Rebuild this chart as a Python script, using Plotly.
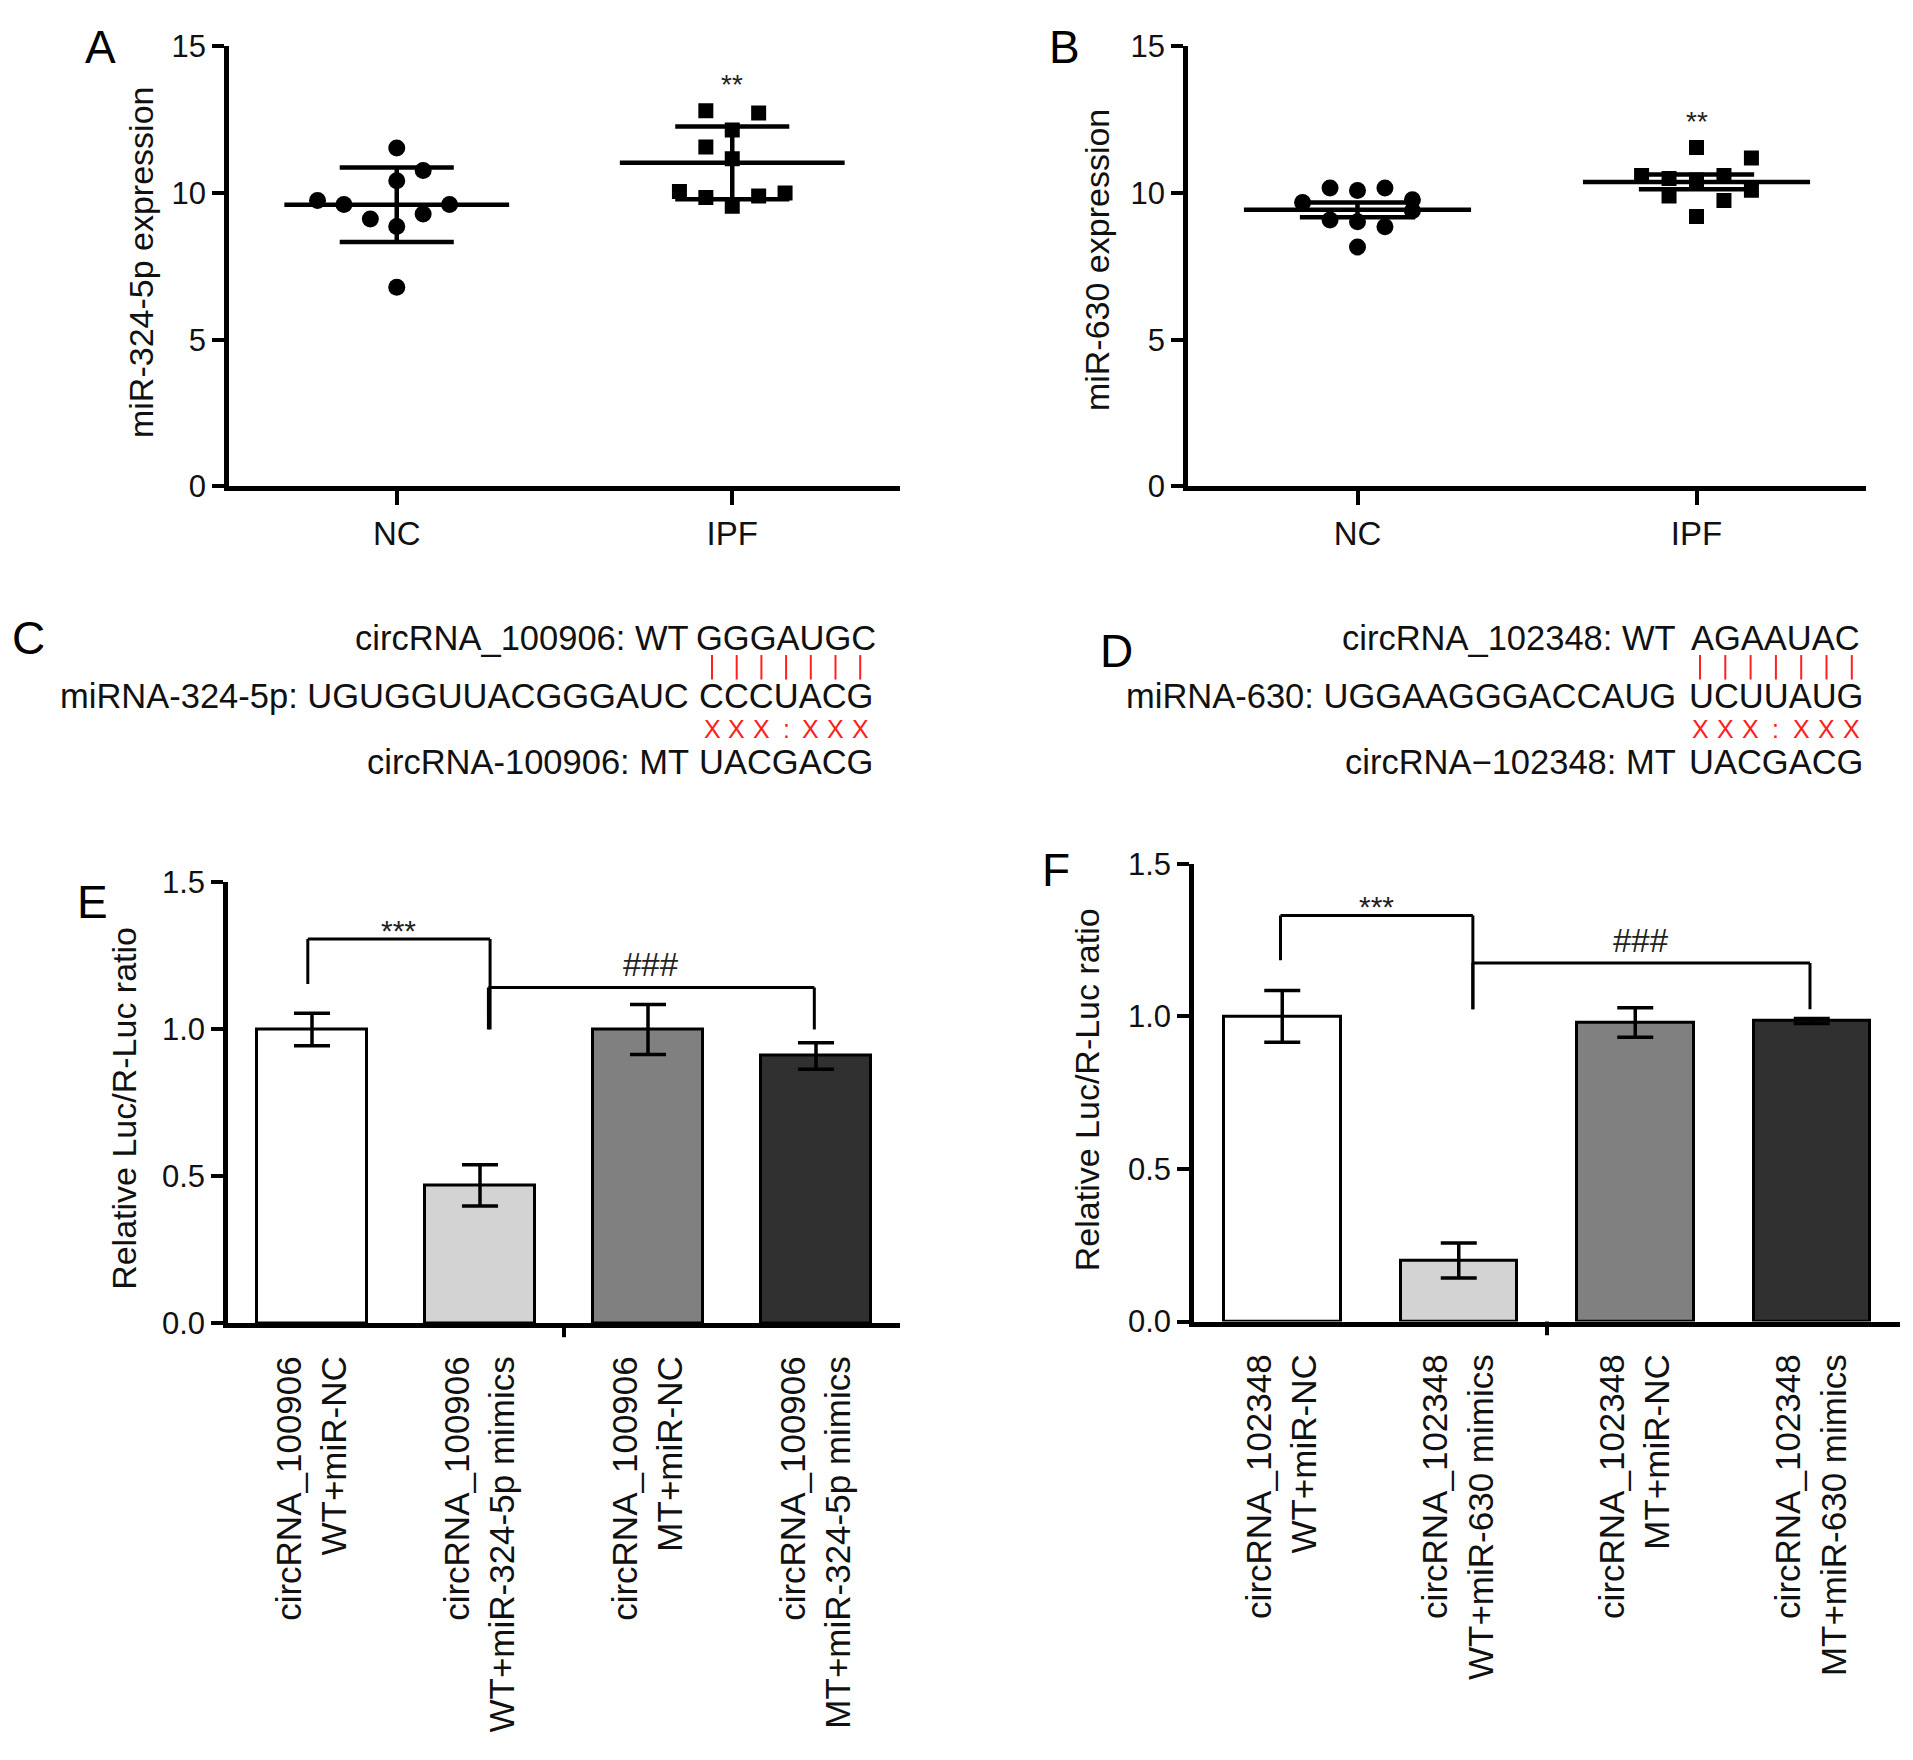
import plotly.graph_objects as go

# canvas
W, H = 1913, 1760
FONT = "Liberation Sans, Arial, Helvetica, sans-serif"

# panel A: miR-324-5p expression (dot plot, mean +/- SD)
groups = ["NC", "IPF"]
a_nc_vals = [11.54, 10.77, 10.42, 9.75, 9.61, 9.61, 9.12, 9.29, 8.86, 6.79]
a_nc_slot = [0, 1, 0, -3, -2, 2, -1, 1, 0, 0]
a_ipf_vals = [12.81, 12.73, 12.15, 11.57, 11.17, 10.05, 9.85, 9.9, 10.0, 9.55]
a_ipf_slot = [-1, 1, 0, -1, 0, -2, -1, 1, 2, 0]
a_mean = [9.6, 11.03]
a_sd = [1.27, 1.24]
a_sig = ["", "**"]

# panel B: miR-630 expression
b_nc_vals = [10.17, 10.09, 10.17, 9.68, 9.77, 9.08, 9.02, 8.85, 8.16, 9.4]
b_nc_slot = [-1, 0, 1, -2, 2, -1, 0, 1, 0, 2]
b_ipf_vals = [11.55, 11.2, 10.6, 10.5, 10.45, 10.6, 9.9, 9.75, 10.1, 9.2]
b_ipf_slot = [0, 2, -2, -1, 0, 1, -1, 1, 2, 0]
b_mean = [9.43, 10.38]
b_sd = [0.25, 0.25]
b_sig = ["", "**"]

# panels C / D: binding sequences
c_lines = ["circRNA_100906: WT", "miRNA-324-5p: UGUGGUUACGGGAUC", "circRNA-100906: MT"]
c_seqs = ["GGGAUGC", "CCCUACG", "UACGACG"]
d_lines = ["circRNA_102348: WT", "miRNA-630: UGGAAGGGACCAUG", "circRNA\u2212102348: MT"]
d_seqs = ["AGAAUAC", "UCUUAUG", "UACGACG"]
mismatch = "XXX:XXX"

# panels E / F: luciferase reporter
e_labels = ["circRNA_100906<br>WT+miR-NC", "circRNA_100906<br>WT+miR-324-5p mimics",
            "circRNA_100906<br>MT+miR-NC", "circRNA_100906<br>MT+miR-324-5p mimics"]
e_vals = [1.0, 0.47, 1.0, 0.91]
e_err = [0.055, 0.07, 0.085, 0.045]
f_labels = ["circRNA_102348<br>WT+miR-NC", "circRNA_102348<br>WT+miR-630 mimics",
            "circRNA_102348<br>MT+miR-NC", "circRNA_102348<br>MT+miR-630 mimics"]
f_vals = [1.0, 0.2, 0.98, 0.985]
f_err = [0.085, 0.057, 0.048, 0.008]
bar_colors = ["#ffffff", "#d3d3d3", "#808080", "#303030"]

# significance brackets: (x left, x right, top, left leg end, right leg end, label)
e_brackets = [(0.975, 2.06, 1.308, 1.155, 1.0, "***"), (2.05, 3.99, 1.143, 1.0, 1.0, "###")]
f_brackets = [(0.99, 2.08, 1.331, 1.184, 1.023, "***"), (2.08, 3.99, 1.175, 1.023, 1.023, "###")]


def px(x):
    return x / W


def py(y):
    return 1 - y / H


fig = go.Figure()
shapes = []
annos = []


def dot_panel(xa, ya, nc_vals, nc_slot, ipf_vals, ipf_slot, means, sds, sig, step):
    # points
    for c, vals, slots, sym, size in [(1, nc_vals, nc_slot, "circle", 17),
                                      (2, ipf_vals, ipf_slot, "square", 15)]:
        fig.add_trace(go.Scatter(x=[c + s * step for s in slots], y=vals, mode="markers",
                                 marker=dict(symbol=sym, size=size, color="black"),
                                 xaxis=xa, yaxis=ya, showlegend=False))
    # mean and SD lines
    for c, m, sd in zip([1, 2], means, sds):
        xs = [c - 0.335, c + 0.335, None, c, c, None, c - 0.17, c + 0.17, None, c - 0.17, c + 0.17]
        ys = [m, m, None, m - sd, m + sd, None, m + sd, m + sd, None, m - sd, m - sd]
        fig.add_trace(go.Scatter(x=xs, y=ys, mode="lines", line=dict(color="black", width=4.5),
                                 xaxis=xa, yaxis=ya, showlegend=False))
    # stars
    for c, s, vals in zip([1, 2], sig, [nc_vals, ipf_vals]):
        if s:
            annos.append(dict(x=c, y=max(vals), xref=xa, yref=ya, text=s, showarrow=False,
                              yanchor="bottom", yshift=9, font=dict(size=28, color="#222")))


def bar_panel(xa, ya, vals, errs, brackets):
    fig.add_trace(go.Bar(x=[1, 2, 3, 4], y=vals, width=0.66,
                         marker=dict(color=bar_colors, line=dict(color="black", width=3)),
                         error_y=dict(type="data", array=errs, color="black", thickness=3.5, width=18),
                         xaxis=xa, yaxis=ya, showlegend=False))
    for x0, x1, top, l_end, r_end, lab in brackets:
        for sx0, sy0, sx1, sy1 in [(x0, top, x1, top), (x0, top, x0, l_end), (x1, top, x1, r_end)]:
            shapes.append(dict(type="line", xref=xa, yref=ya, x0=sx0, y0=sy0, x1=sx1, y1=sy1,
                               line=dict(color="black", width=3)))
        if lab == "***":
            annos.append(dict(x=(x0 + x1) / 2, y=top, xref=xa, yref=ya, text=lab, showarrow=False,
                              yanchor="bottom", yshift=-10, font=dict(size=30, color="#222")))
        else:
            annos.append(dict(x=(x0 + x1) / 2, y=top, xref=xa, yref=ya, text=lab, showarrow=False,
                              yanchor="bottom", yshift=2, font=dict(size=33, color="#222")))


dot_panel("x", "y", a_nc_vals, a_nc_slot, a_ipf_vals, a_ipf_slot, a_mean, a_sd, a_sig, 0.0787)
dot_panel("x2", "y2", b_nc_vals, b_nc_slot, b_ipf_vals, b_ipf_slot, b_mean, b_sd, b_sig, 0.081)
bar_panel("x3", "y3", e_vals, e_err, e_brackets)
bar_panel("x4", "y4", f_vals, f_err, f_brackets)

# single centre tick on the bar chart x axes
for xa, bottom in [("x3", 1333), ("x4", 1331)]:
    shapes.append(dict(type="line", xref=xa, yref="paper", x0=2.5, x1=2.5,
                       y0=py(bottom), y1=py(bottom + 14), line=dict(color="black", width=4)))

# sequence panels
seq_rows = [634, 693, 760]
for lines, seqs, first, pitch in [(c_lines, c_seqs, 712, 24.7), (d_lines, d_seqs, 1700, 25.3)]:
    for txt, seq, yy in zip(lines, seqs, seq_rows):
        annos.append(dict(x=px(first - pitch / 2 - 9), y=py(yy), xref="paper", yref="paper",
                          text=txt, showarrow=False, xanchor="right", yanchor="middle",
                          font=dict(size=34.5, color="#111")))
        annos.append(dict(x=px(first + 3 * pitch), y=py(yy), xref="paper", yref="paper",
                          text=seq, showarrow=False, xanchor="center", yanchor="middle",
                          font=dict(size=34.5, color="#111")))
    for i, ch in enumerate(mismatch):
        shapes.append(dict(type="line", xref="paper", yref="paper",
                           x0=px(first + i * pitch), x1=px(first + i * pitch),
                           y0=py(651), y1=py(676), line=dict(color="#ff2020", width=2)))
        annos.append(dict(x=px(first + i * pitch), y=py(726.5), xref="paper", yref="paper",
                          text=ch, showarrow=False, xanchor="center", yanchor="middle",
                          font=dict(size=25, color="#ff2020")))

# panel letters
for lab, x, y in [("A", 100, 31), ("B", 1064, 31), ("C", 28, 634), ("D", 1116, 647),
                  ("E", 92, 903), ("F", 1056, 870)]:
    annos.append(dict(x=px(x), y=py(y), xref="paper", yref="paper", text=lab, showarrow=False,
                      xanchor="center", yanchor="middle", font=dict(size=46, color="black")))

# y axis titles
for lab, x, y in [("miR-324-5p expression", 141, 250), ("miR-630 expression", 1097, 248),
                  ("Relative Luc/R-Luc ratio", 124, 1114), ("Relative Luc/R-Luc ratio", 1087, 1095)]:
    annos.append(dict(x=px(x), y=py(y), xref="paper", yref="paper", text=lab, showarrow=False,
                      textangle=-90, xanchor="center", yanchor="middle",
                      font=dict(size=34, color="#111")))

axis_common = dict(showline=True, linecolor="black", linewidth=4.5, showgrid=False, zeroline=False,
                   ticks="outside", ticklen=12, tickwidth=4, tickcolor="black",
                   tickfont=dict(size=31, color="#111"), fixedrange=True)

fig.update_layout(
    width=W, height=H, margin=dict(l=0, r=0, t=0, b=0),
    paper_bgcolor="white", plot_bgcolor="white",
    font=dict(family=FONT, color="black"),
    showlegend=False, bargap=0,
    xaxis=dict(axis_common, domain=[px(229), px(900)], range=[0.5, 2.5], anchor="y",
               tickvals=[1, 2], ticktext=groups, ticklen=14, tickfont=dict(size=33, color="#111")),
    yaxis=dict(axis_common, domain=[py(479), py(30)], range=[0, 15], anchor="x",
               tickvals=[0, 5, 10, 15]),
    xaxis2=dict(axis_common, domain=[px(1188), px(1866)], range=[0.5, 2.5], anchor="y2",
                tickvals=[1, 2], ticktext=groups, ticklen=14, tickfont=dict(size=33, color="#111")),
    yaxis2=dict(axis_common, domain=[py(479), py(30)], range=[0, 15], anchor="x2",
                tickvals=[0, 5, 10, 15]),
    xaxis3=dict(axis_common, domain=[px(228), px(900)], range=[0.5, 4.5], anchor="y3",
                tickvals=[1, 2, 3, 4], ticktext=e_labels, ticks="", tickangle=-90,
                ticklabelstandoff=14, tickfont=dict(size=35, color="#111")),
    yaxis3=dict(axis_common, domain=[py(1333), py(883)], range=[0, 1.5], anchor="x3",
                tickvals=[0, 0.5, 1.0, 1.5], tickformat=".1f"),
    xaxis4=dict(axis_common, domain=[px(1194), px(1900)], range=[0.5, 4.5], anchor="y4",
                tickvals=[1, 2, 3, 4], ticktext=f_labels, ticks="", tickangle=-90,
                ticklabelstandoff=14, tickfont=dict(size=35, color="#111")),
    yaxis4=dict(axis_common, domain=[py(1331), py(864)], range=[0, 1.5], anchor="x4",
                tickvals=[0, 0.5, 1.0, 1.5], tickformat=".1f"),
    shapes=shapes, annotations=annos,
)

# drop the default page margin so the figure sits at the window origin
fig.write_html("out.html", config={"displayModeBar": False},
               post_script="document.body.style.margin='0';")
